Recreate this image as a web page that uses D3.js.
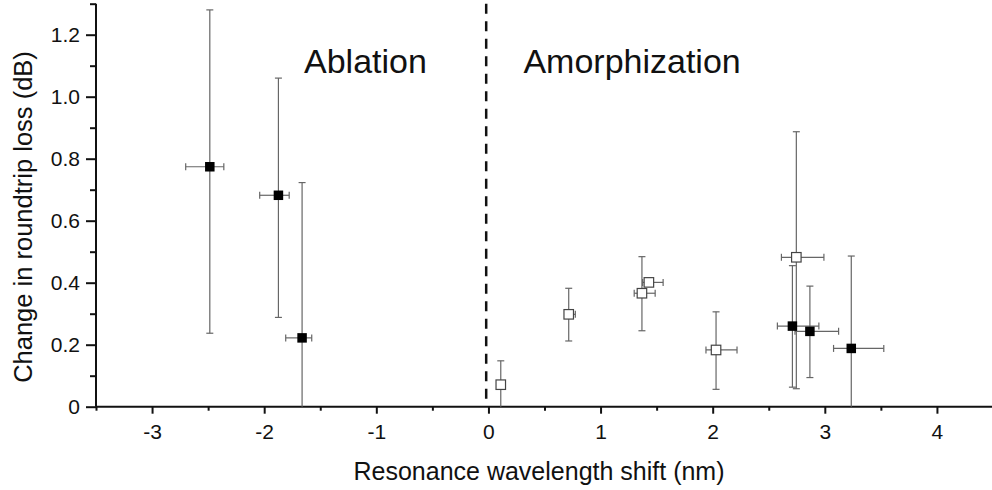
<!DOCTYPE html>
<html>
<head>
<meta charset="utf-8">
<script src="https://cdn.jsdelivr.net/npm/d3@7"></script>
<style>
  html, body { margin: 0; padding: 0; background: #fff; }
  svg { display: block; }
  text { font-family: "Liberation Sans", Arial, sans-serif; fill: #111; }
</style>
</head>
<body>
<svg id="chart" width="992" height="490"></svg>
<script>
// ---- data ----
const xTicks = [-3, -2, -1, 0, 1, 2, 3, 4];
const yTicks = [0, 0.2, 0.4, 0.6, 0.8, 1.0, 1.2];

// filled squares
const filledX   = [-2.485, -1.873, -1.662, 2.711, 2.867, 3.236];
const filledY   = [0.774, 0.682, 0.222, 0.260, 0.243, 0.188];
const filledXLo = [-2.700, -2.040, -1.808, 2.577, 2.734, 3.078];
const filledXHi = [-2.360, -1.777, -1.576, 2.947, 3.123, 3.526];
const filledYLo = [0.237, 0.288, 0.000, 0.063, 0.094, 0.000];
const filledYHi = [1.280, 1.060, 0.723, 0.455, 0.389, 0.486];

// open squares
const openX   = [0.110, 0.716, 1.369, 1.431, 2.030, 2.746];
const openY   = [0.071, 0.298, 0.366, 0.401, 0.183, 0.482];
const openXLo = [0.075, 0.690, 1.300, 1.375, 1.940, 2.613];
const openXHi = [0.130, 0.775, 1.487, 1.558, 2.217, 2.992];
const openYLo = [0.000, 0.212, 0.245, 0.392, 0.056, 0.058];
const openYHi = [0.148, 0.382, 0.484, 0.410, 0.306, 0.887];

const dividerX = -0.02;
const regionLabels = ["Ablation", "Amorphization"];
const regionLabelX = [-1.645, 0.312];
const regionLabelY = [1.077, 1.077];
const xTitle = "Resonance wavelength shift (nm)";
const yTitle = "Change in roundtrip loss (dB)";

// ---- drawing ----
const svg = d3.select("#chart");
const x = d3.scaleLinear().domain([-3.5, 4.5]).range([96, 993]);
const y = d3.scaleLinear().domain([0, 1.3]).range([406.7, 3.7]);

function toPoints(xs, ys, xl, xh, yl, yh) {
  return xs.map((v, i) => ({ x: v, y: ys[i], xlo: xl[i], xhi: xh[i], ylo: yl[i], yhi: yh[i] }));
}
const filled = toPoints(filledX, filledY, filledXLo, filledXHi, filledYLo, filledYHi);
const open = toPoints(openX, openY, openXLo, openXHi, openYLo, openYHi);

// axes
const xMinor = d3.range(-3.5, 4.51, 0.5).filter(v => Math.abs(v - Math.round(v)) > 1e-6);
const yMinor = d3.range(0.1, 1.31, 0.2);

const gx = svg.append("g").attr("transform", `translate(0,${y(0)})`);
gx.call(d3.axisBottom(x).tickValues(xTicks).tickSize(7).tickPadding(10).tickFormat(d => String(d)));
gx.append("g").call(d3.axisBottom(x).tickValues(xMinor).tickSize(4).tickFormat(""))
  .select(".domain").remove();

const gy = svg.append("g").attr("transform", `translate(${x(-3.5)},0)`);
gy.call(d3.axisLeft(y).tickValues(yTicks).tickSize(10).tickPadding(6)
  .tickFormat(d => d === 0 ? "0" : d3.format(".1f")(d)));
gy.append("g").call(d3.axisLeft(y).tickValues(yMinor).tickSize(6).tickFormat(""))
  .select(".domain").remove();

svg.selectAll(".domain").attr("stroke", "#111").attr("stroke-width", 2);
svg.selectAll(".tick line").attr("stroke", "#111").attr("stroke-width", 2);
svg.selectAll(".tick text").attr("font-size", 21).attr("font-family", "Liberation Sans, Arial, sans-serif").attr("fill", "#111");
gx.selectAll(".domain").attr("d", `M${x(-3.5)},0H${x(4.5)}`);
gy.selectAll(".domain").attr("d", `M0,${y(1.3)}V${y(0)}`);

// divider
svg.append("line")
  .attr("x1", x(dividerX)).attr("x2", x(dividerX))
  .attr("y1", y(1.3)).attr("y2", y(0))
  .attr("stroke", "#111").attr("stroke-width", 2.5)
  .attr("stroke-dasharray", "10,7.5");

// error bars
const cap = 3.5;
function errorBars(data) {
  const g = svg.append("g").attr("stroke", "#666").attr("stroke-width", 1.2).attr("fill", "none");
  data.forEach(d => {
    g.append("line").attr("x1", x(d.x)).attr("x2", x(d.x)).attr("y1", y(d.ylo)).attr("y2", y(d.yhi));
    g.append("line").attr("x1", x(d.x) - cap).attr("x2", x(d.x) + cap).attr("y1", y(d.yhi)).attr("y2", y(d.yhi));
    if (d.ylo > 0) g.append("line").attr("x1", x(d.x) - cap).attr("x2", x(d.x) + cap).attr("y1", y(d.ylo)).attr("y2", y(d.ylo));
    g.append("line").attr("x1", x(d.xlo)).attr("x2", x(d.xhi)).attr("y1", y(d.y)).attr("y2", y(d.y));
    g.append("line").attr("x1", x(d.xlo)).attr("x2", x(d.xlo)).attr("y1", y(d.y) - cap).attr("y2", y(d.y) + cap);
    g.append("line").attr("x1", x(d.xhi)).attr("x2", x(d.xhi)).attr("y1", y(d.y) - cap).attr("y2", y(d.y) + cap);
  });
}
errorBars(filled);
errorBars(open);

const s = 9.5;
svg.append("g").selectAll("rect").data(open).join("rect")
  .attr("x", d => x(d.x) - s / 2).attr("y", d => y(d.y) - s / 2)
  .attr("width", s).attr("height", s)
  .attr("fill", "#fff").attr("stroke", "#444").attr("stroke-width", 1.2);
svg.append("g").selectAll("rect").data(filled).join("rect")
  .attr("x", d => x(d.x) - s / 2).attr("y", d => y(d.y) - s / 2)
  .attr("width", s).attr("height", s)
  .attr("fill", "#000");

// region labels
regionLabels.forEach((t, i) => {
  svg.append("text").attr("x", x(regionLabelX[i])).attr("y", y(regionLabelY[i]))
    .attr("font-family", "Lato, 'Open Sans', sans-serif").attr("font-size", 34)
    .text(t);
});

// axis titles
svg.append("text").attr("x", 539).attr("y", 480).attr("text-anchor", "middle")
  .attr("font-size", 25).text(xTitle);
svg.append("text").attr("transform", "translate(32,217) rotate(-90)").attr("text-anchor", "middle")
  .attr("font-size", 25.5).text(yTitle);
</script>
</body>
</html>
